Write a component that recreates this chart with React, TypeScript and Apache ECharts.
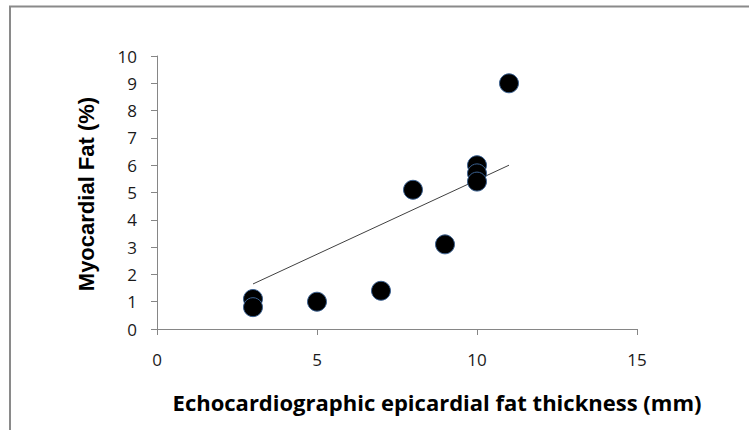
import React, { useEffect, useRef } from "react";
import * as echarts from "echarts";

const thicknessMm = [3, 3, 5, 7, 8, 9, 10, 10, 10, 11];
const myocardialFat = [1.1, 0.8, 1.0, 1.4, 5.1, 3.1, 6.0, 5.7, 5.4, 9.0];
const trendX = [3, 11];
const trendY = [1.65, 6.0];
const xTitle = "Echocardiographic epicardial fat thickness (mm)";
const yTitle = "Myocardial Fat (%)";

export default function App() {
  const ref = useRef<HTMLDivElement>(null);
  useEffect(() => {
    if (!ref.current) return;
    const chart = echarts.init(ref.current, null, { renderer: "svg" });
    const axisColor = "#868686";
    chart.setOption({
      animation: false,
      backgroundColor: "#ffffff",
      grid: { left: 157, right: 112, top: 56, bottom: 101, containLabel: false },
      xAxis: {
        type: "value",
        min: 0,
        max: 15,
        interval: 5,
        splitLine: { show: false },
        axisLine: { show: true, onZero: false, lineStyle: { color: axisColor, width: 1 } },
        axisTick: { show: true, inside: false, length: 6, lineStyle: { color: axisColor } },
        axisLabel: { margin: 22, color: "#1a1a1a", fontFamily: "Open Sans", fontSize: 17 },
      },
      yAxis: {
        type: "value",
        min: 0,
        max: 10,
        interval: 1,
        splitLine: { show: false },
        axisLine: { show: true, onZero: false, lineStyle: { color: axisColor, width: 1 } },
        axisTick: { show: true, inside: false, length: 6, lineStyle: { color: axisColor } },
        axisLabel: { margin: 20, color: "#1a1a1a", fontFamily: "Open Sans", fontSize: 17 },
      },
      graphic: [
        {
          type: "rect",
          shape: { x: 10, y: 6.5, width: 900, height: 600 },
          style: { fill: "none", stroke: "#8a8a8a", lineWidth: 2 },
          silent: true,
          z: 100,
        },
        {
          type: "text",
          x: 437,
          y: 402,
          style: {
            text: xTitle,
            fill: "#000",
            font: "bold 22px 'Open Sans'",
            textAlign: "center",
            textVerticalAlign: "middle",
          },
        },
        {
          type: "text",
          x: 86,
          y: 194,
          rotation: Math.PI / 2,
          style: {
            text: yTitle,
            fill: "#000",
            font: "bold 22px 'Liberation Sans'",
            textAlign: "center",
            textVerticalAlign: "middle",
          },
        },
      ],
      series: [
        {
          type: "line",
          data: trendX.map((x, i) => [x, trendY[i]]),
          showSymbol: false,
          symbol: "none",
          lineStyle: { color: "#404040", width: 1 },
          z: 1,
        },
        {
          type: "scatter",
          data: thicknessMm.map((x, i) => [x, myocardialFat[i]]),
          symbol: "circle",
          symbolSize: 19,
          itemStyle: { color: "#000000", opacity: 1, borderColor: "#3b6191", borderWidth: 1 },
          z: 2,
        },
      ],
    });
    return () => chart.dispose();
  }, []);
  return (
    <div
      ref={ref}
      style={{ position: "fixed", left: 0, top: 0, width: 749, height: 430 }}
    />
  );
}
